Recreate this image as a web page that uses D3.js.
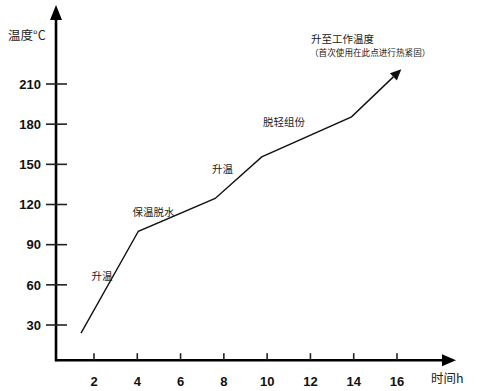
<!DOCTYPE html>
<html><head><meta charset="utf-8">
<script src="https://cdn.jsdelivr.net/npm/d3@7"></script>
<style>
body{margin:0;background:#fff;}
svg{display:block;}
</style></head>
<body>
<svg id="c" width="478" height="391"></svg>
<script>
const xTicks = [2, 4, 6, 8, 10, 12, 14, 16];
const yTicks = [30, 60, 90, 120, 150, 180, 210];
const times = [1.4, 4.05, 7.6, 9.75, 13.9, 16.2];
const temps = [24, 100, 124.5, 155.5, 185.5, 221];
const stageLabels = ["升温", "保温脱水", "升温", "脱轻组份"];
const stageX = [2.37, 4.75, 7.94, 10.78];
const stageY = [66.6, 114.4, 146.5, 181.6];
const noteLines = ["升至工作温度", "（首次使用在此点进行热紧固）"];
const xTitle = "时间h", yTitle = "温度°C";

const svg = d3.select("#c");
const x = d3.scaleLinear().domain([2, 16]).range([94, 397]);
const y = d3.scaleLinear().domain([30, 210]).range([325, 84]);
const xOrigin = 0.245, yOrigin = 3.7;
const ax = x(xOrigin), ay = y(yOrigin);

const font = "'Liberation Sans', Arial, sans-serif";
const cjk = "'Noto Sans CJK SC', 'Noto Sans', sans-serif";

// axes lines
svg.append("line").attr("x1", ax).attr("x2", ax).attr("y1", ay + 1).attr("y2", 18)
  .attr("stroke", "#000").attr("stroke-width", 2.6);
svg.append("path").attr("d", `M${ax},5 L${ax-6},20 L${ax+6},20 Z`).attr("fill", "#000");
svg.append("line").attr("x1", ax - 1).attr("x2", 444).attr("y1", ay).attr("y2", ay)
  .attr("stroke", "#000").attr("stroke-width", 2.6);
svg.append("path").attr("d", `M456,${ay} L442,${ay-6} L442,${ay+6} Z`).attr("fill", "#000");

// y ticks
const yg = svg.append("g");
yTicks.forEach(t => {
  yg.append("line").attr("x1", ax - 10).attr("x2", ax + 11).attr("y1", y(t)).attr("y2", y(t))
    .attr("stroke", "#222").attr("stroke-width", 1.6);
  yg.append("text").attr("x", 41).attr("y", y(t)).attr("dy", "0.36em")
    .attr("text-anchor", "end").attr("font-family", font).attr("font-weight", "bold")
    .attr("font-size", 13).attr("fill", "#111").text(t);
});
// x ticks
const xg = svg.append("g");
xTicks.forEach(t => {
  xg.append("line").attr("x1", x(t)).attr("x2", x(t)).attr("y1", ay - 7).attr("y2", ay)
    .attr("stroke", "#222").attr("stroke-width", 1.6);
  xg.append("text").attr("x", x(t)).attr("y", 381).attr("dy", "0.36em")
    .attr("text-anchor", "middle").attr("font-family", font).attr("font-weight", "bold")
    .attr("font-size", 13).attr("fill", "#111").text(t);
});

// axis titles
svg.append("text").attr("x", 8).attr("y", 35).attr("dy", "0.36em")
  .attr("font-family", cjk).attr("font-size", 12.5).attr("fill", "#222").text(yTitle);
svg.append("text").attr("x", 431).attr("y", 378).attr("dy", "0.36em")
  .attr("font-family", cjk).attr("font-size", 12.5).attr("fill", "#222").text(xTitle);

// line
const pts = times.map((t, i) => [x(t), y(temps[i])]);
const lineGen = d3.line().x(d => d[0]).y(d => d[1]);
const last = pts[pts.length - 1], prev = pts[pts.length - 2];
const ang = Math.atan2(last[1] - prev[1], last[0] - prev[0]);
const headLen = 11, headW = 5;
const base = [last[0] - headLen * Math.cos(ang), last[1] - headLen * Math.sin(ang)];
const linePts = pts.slice(0, -1).concat([base]);
svg.append("path").attr("d", lineGen(linePts)).attr("fill", "none")
  .attr("stroke", "#111").attr("stroke-width", 1.4).attr("stroke-linejoin", "miter");
const px = -Math.sin(ang), py = Math.cos(ang);
svg.append("path").attr("d",
  `M${last[0]},${last[1]} L${base[0] + px*headW},${base[1] + py*headW} L${base[0] - px*headW},${base[1] - py*headW} Z`)
  .attr("fill", "#111");

// stage labels
stageLabels.forEach((s, i) => {
  svg.append("text").attr("x", x(stageX[i])).attr("y", y(stageY[i])).attr("dy", "0.36em")
    .attr("text-anchor", "middle").attr("font-family", cjk).attr("font-size", 10.5)
    .attr("fill", "#222").text(s);
});

// note
svg.append("text").attr("x", 311).attr("y", 39).attr("dy", "0.36em")
  .attr("font-family", cjk).attr("font-size", 10.5).attr("fill", "#222").text(noteLines[0]);
svg.append("text").attr("x", 310).attr("y", 53).attr("dy", "0.36em")
  .attr("font-family", cjk).attr("font-size", 8.6).attr("fill", "#222").text(noteLines[1]);
</script>
</body></html>
